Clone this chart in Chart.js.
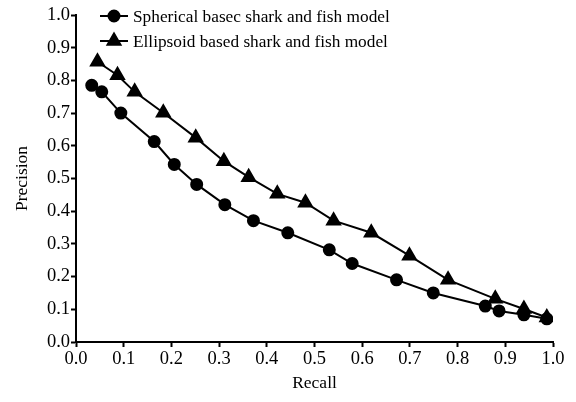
<!DOCTYPE html>
<html>
<head>
<meta charset="utf-8">
<script src="https://cdn.jsdelivr.net/npm/chart.js@4"></script>
<style>
  html, body { margin: 0; padding: 0; background: #fff; }
  #wrap { width: 576px; height: 402px; }
</style>
</head>
<body>
<div id="wrap"><canvas id="prChart" width="576" height="402"></canvas></div>
<script>
// Spherical model (recall, precision)
const sphereRecall    = [0.033, 0.054, 0.094, 0.164, 0.206, 0.253, 0.312, 0.372, 0.444, 0.531, 0.579, 0.672, 0.749, 0.858, 0.887, 0.939, 0.987];
const spherePrecision = [0.785, 0.765, 0.700, 0.613, 0.543, 0.482, 0.420, 0.371, 0.334, 0.282, 0.240, 0.190, 0.150, 0.110, 0.095, 0.083, 0.071];

// Ellipsoid model (recall, precision)
const ellipRecall    = [0.045, 0.087, 0.123, 0.183, 0.251, 0.310, 0.362, 0.422, 0.481, 0.540, 0.619, 0.699, 0.780, 0.879, 0.939, 0.987];
const ellipPrecision = [0.857, 0.816, 0.765, 0.701, 0.625, 0.553, 0.504, 0.453, 0.426, 0.371, 0.334, 0.264, 0.190, 0.132, 0.101, 0.075];

const seriesNames = ['Spherical basec shark and fish model', 'Ellipsoid based shark and fish model'];
const axisTicks = [0, 0.1, 0.2, 0.3, 0.4, 0.5, 0.6, 0.7, 0.8, 0.9, 1.0];

const FONT = 'Liberation Serif';

function toPoints(xs, ys) {
    return xs.map((x, i) => ({ x: x, y: ys[i] }));
}

// legend drawn inside the plot, top-left, like the original figure
const innerLegend = {
    id: 'innerLegend',
    afterDraw(chart) {
        const ctx = chart.ctx;
        const area = chart.chartArea;
        const x0 = area.left + 24;
        const rows = [area.top + 1, area.top + 26];
        ctx.save();
        chart.data.datasets.forEach((ds, i) => {
            const y = rows[i];
            ctx.strokeStyle = '#000';
            ctx.lineWidth = 2;
            ctx.beginPath();
            ctx.moveTo(x0, y);
            ctx.lineTo(x0 + 28, y);
            ctx.stroke();
            Chart.helpers.drawPoint(ctx, {
                pointStyle: ds.pointStyle,
                radius: ds.pointRadius,
                borderWidth: 1
            }, x0 + 14, y);
            ctx.fillStyle = '#000';
            ctx.font = '17.3px "' + FONT + '"';
            ctx.textBaseline = 'middle';
            ctx.textAlign = 'left';
            ctx.fillText(ds.label, x0 + 33, y + 1);
        });
        ctx.restore();
    }
};

const ctx = document.getElementById('prChart').getContext('2d');
new Chart(ctx, {
    type: 'scatter',
    data: {
        datasets: [
            {
                label: seriesNames[0],
                data: toPoints(sphereRecall, spherePrecision),
                showLine: true,
                borderColor: '#000',
                backgroundColor: '#000',
                borderWidth: 2,
                pointStyle: 'circle',
                pointRadius: 5.5,
                pointBackgroundColor: '#000',
                pointBorderColor: '#000'
            },
            {
                label: seriesNames[1],
                data: toPoints(ellipRecall, ellipPrecision),
                showLine: true,
                borderColor: '#000',
                backgroundColor: '#000',
                borderWidth: 2,
                pointStyle: 'triangle',
                pointRadius: 7.5,
                pointBackgroundColor: '#000',
                pointBorderColor: '#000'
            }
        ]
    },
    options: {
        responsive: false,
        animation: false,
        events: [],
        layout: { padding: { left: 0, top: 15, right: 23, bottom: 0 } },
        plugins: {
            legend: { display: false },
            tooltip: { enabled: false }
        },
        scales: {
            x: {
                type: 'linear',
                min: 0,
                max: 1,
                afterBuildTicks: s => { s.ticks = axisTicks.map(v => ({ value: v })); },
                afterFit: s => { s.height = 60; },
                grid: { display: true, drawOnChartArea: false, tickLength: 5, tickColor: '#000', tickWidth: 2 },
                border: { display: true, color: '#000', width: 2 },
                ticks: {
                    color: '#000',
                    padding: 1,
                    font: { family: FONT, size: 18.5 },
                    maxRotation: 0,
                    callback: v => Number(v).toFixed(1)
                },
                title: {
                    display: true,
                    text: 'Recall',
                    color: '#000',
                    font: { family: FONT, size: 17.5 },
                    padding: { top: 0, bottom: 8 }
                }
            },
            y: {
                type: 'linear',
                min: 0,
                max: 1,
                afterBuildTicks: s => { s.ticks = axisTicks.map(v => ({ value: v })); },
                afterFit: s => { s.width = 76; },
                grid: { display: true, drawOnChartArea: false, tickLength: 5, tickColor: '#000', tickWidth: 2 },
                border: { display: true, color: '#000', width: 2 },
                ticks: {
                    color: '#000',
                    padding: 1,
                    font: { family: FONT, size: 18.5 },
                    callback: v => Number(v).toFixed(1)
                },
                title: {
                    display: true,
                    text: 'Precision',
                    color: '#000',
                    font: { family: FONT, size: 17.5 },
                    padding: { top: 12, bottom: 0 }
                }
            }
        }
    },
    plugins: [innerLegend]
});
</script>
</body>
</html>
